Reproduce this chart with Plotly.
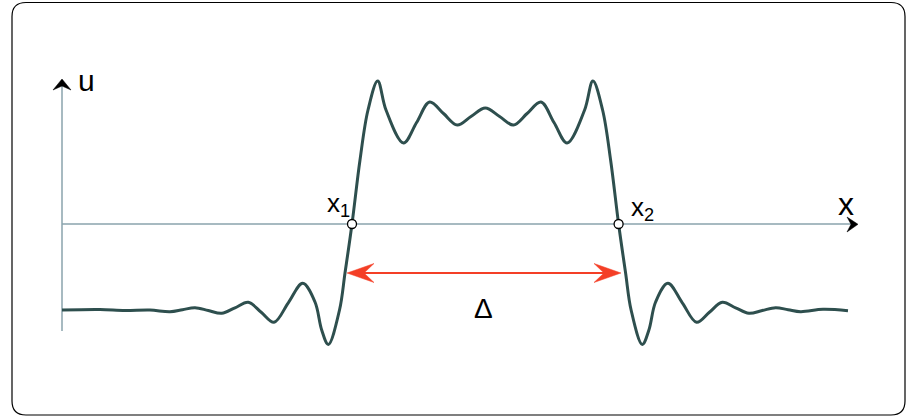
import plotly.graph_objects as go

# ---- data ----
x_vals = [0.00, 0.38, 0.63, 0.88, 1.08, 1.205, 1.33, 1.463, 1.597, 1.73, 1.863, 1.992, 2.12, 2.263, 2.407,
          2.53, 2.597, 2.663, 2.775, 2.83, 2.90, 2.98, 3.06,
          3.157, 3.24, 3.415, 3.546, 3.677, 3.815, 3.952, 4.09, 4.233,
          4.376, 4.514, 4.651, 4.789, 4.920, 5.051, 5.226, 5.309,
          5.406, 5.486, 5.566, 5.636, 5.691, 5.803, 5.869, 5.936,
          6.059, 6.203, 6.346, 6.474, 6.603, 6.736, 6.869, 7.003, 7.136, 7.261, 7.386, 7.61, 7.86]
u_vals = [-0.86, -0.855, -0.865, -0.86, -0.877, -0.857, -0.837, -0.865, -0.893, -0.838, -0.783, -0.883, -0.983, -0.788, -0.593,
          -0.78, -1.06, -1.205, -0.86, -0.49, 0.00, 0.64, 1.14,
          1.43, 1.14, 0.81, 1.015, 1.22, 1.105, 0.99, 1.075, 1.16,
          1.075, 0.99, 1.105, 1.22, 1.015, 0.81, 1.14, 1.43,
          1.14, 0.64, 0.00, -0.49, -0.86, -1.205, -1.06, -0.78,
          -0.593, -0.788, -0.983, -0.883, -0.783, -0.838, -0.893, -0.865, -0.837, -0.857, -0.877, -0.853, -0.867]
crossings_x = [2.90, 5.566]
crossings_u = [0.0, 0.0]
point_labels = ["x<sub>1</sub>", "x<sub>2</sub>"]
axis_labels = ["u", "x"]
delta_label = "Δ"

W, H = 907, 418
def X(px):
    return (px - 62) / 100.0
def U(py):
    return (224 - py) / 100.0

curve_color = "#2e4f4e"
axis_color = "#8aa3ac"
red = "#f43f26"

fig = go.Figure()
fig.add_trace(go.Scatter(x=x_vals, y=u_vals, mode="lines",
                         line=dict(color=curve_color, width=3, shape="spline", smoothing=1.0),
                         hoverinfo="skip", showlegend=False))
fig.add_trace(go.Scatter(x=crossings_x, y=crossings_u, mode="markers",
                         marker=dict(size=9, color="white", line=dict(color="black", width=1.3)),
                         hoverinfo="skip", showlegend=False))

shapes = []
# axes
shapes.append(dict(type="line", xref="x", yref="y", x0=X(62), x1=X(853), y0=0, y1=0,
                   line=dict(color=axis_color, width=1.5), layer="below"))
shapes.append(dict(type="line", xref="x", yref="y", x0=0, x1=0, y0=U(331), y1=U(86),
                   line=dict(color=axis_color, width=1.5), layer="below"))

def path(points):
    s = "M{},{}".format(X(points[0][0]), U(points[0][1]))
    for p in points[1:]:
        s += " L{},{}".format(X(p[0]), U(p[1]))
    return s + " Z"

# axis arrowheads (black chevrons)
shapes.append(dict(type="path", xref="x", yref="y",
                   path=path([(858, 224.3), (847, 217), (851, 224.3), (847, 232)]),
                   fillcolor="black", line=dict(color="black", width=0.5)))
shapes.append(dict(type="path", xref="x", yref="y",
                   path=path([(62, 79), (53, 90), (62, 86), (71, 90)]),
                   fillcolor="black", line=dict(color="black", width=0.5)))

# red double arrow
ya = 273
shapes.append(dict(type="line", xref="x", yref="y", x0=X(360), x1=X(607), y0=U(ya), y1=U(ya),
                   line=dict(color=red, width=2)))
shapes.append(dict(type="path", xref="x", yref="y",
                   path=path([(347, ya), (374, ya - 9.5), (364, ya), (374, ya + 9.5)]),
                   fillcolor=red, line=dict(color=red, width=0.5)))
shapes.append(dict(type="path", xref="x", yref="y",
                   path=path([(621, ya), (594, ya - 9.5), (604, ya), (594, ya + 9.5)]),
                   fillcolor=red, line=dict(color=red, width=0.5)))

# rounded border
l, t, r_, b, rad = 12, 2.5, 905, 415, 14
def fx(px): return px / W
def fy(py): return 1 - py / H
bp = ("M{},{} L{},{} Q{},{} {},{} L{},{} Q{},{} {},{} L{},{} Q{},{} {},{} L{},{} Q{},{} {},{} Z").format(
    fx(l + rad), fy(t), fx(r_ - rad), fy(t), fx(r_), fy(t), fx(r_), fy(t + rad),
    fx(r_), fy(b - rad), fx(r_), fy(b), fx(r_ - rad), fy(b),
    fx(l + rad), fy(b), fx(l), fy(b), fx(l), fy(b - rad),
    fx(l), fy(t + rad), fx(l), fy(t), fx(l + rad), fy(t))
shapes.append(dict(type="path", xref="paper", yref="paper", path=bp,
                   line=dict(color="black", width=1.2)))

font = "Liberation Sans, Arial, sans-serif"
annotations = [
    dict(x=X(86), y=U(80), text=axis_labels[0], showarrow=False, xref="x", yref="y",
         font=dict(family=font, size=30, color="black")),
    dict(x=X(846), y=U(204), text=axis_labels[1], showarrow=False, xref="x", yref="y",
         font=dict(family=font, size=32, color="black")),
    dict(x=X(338), y=U(204), text=point_labels[0], showarrow=False, xref="x", yref="y",
         font=dict(family=font, size=26, color="black")),
    dict(x=X(642), y=U(208), text=point_labels[1], showarrow=False, xref="x", yref="y",
         font=dict(family=font, size=26, color="black")),
    dict(x=X(483), y=U(308), text=delta_label, showarrow=False, xref="x", yref="y",
         font=dict(family=font, size=28, color="black")),
]

fig.update_layout(
    width=W, height=H, autosize=False,
    margin=dict(l=0, r=0, t=0, b=0),
    paper_bgcolor="white", plot_bgcolor="white",
    xaxis=dict(visible=False, range=[X(0), X(W)], fixedrange=True),
    yaxis=dict(visible=False, range=[U(H), U(0)], fixedrange=True),
    shapes=shapes, annotations=annotations, showlegend=False,
)
fig.write_html("out.html", config={"displayModeBar": False},
               post_script="document.body.style.margin='0';document.body.style.overflow='hidden';")
